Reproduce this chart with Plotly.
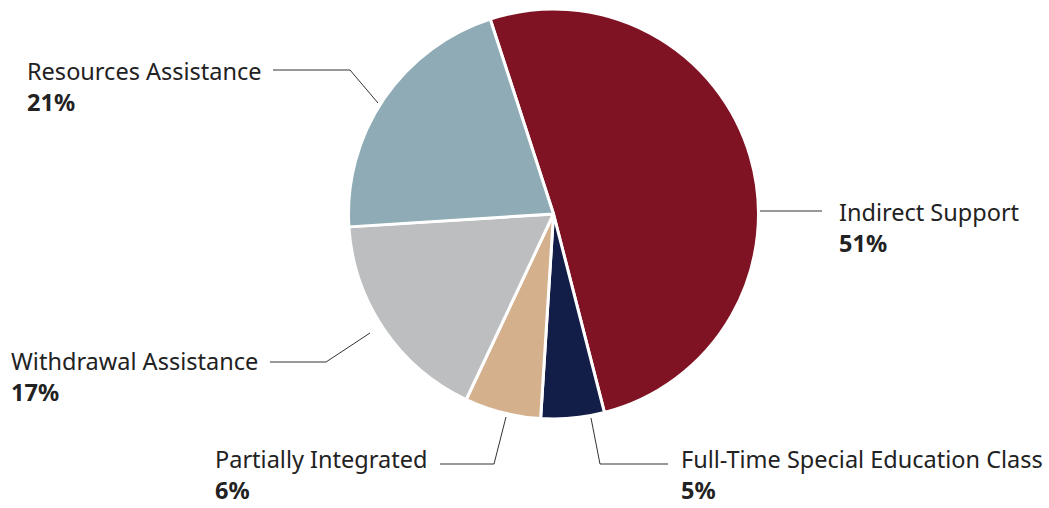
import plotly.graph_objects as go

# ---- data ----
categories = ["Indirect Support", "Full-Time Special Education Class",
              "Partially Integrated", "Withdrawal Assistance", "Resources Assistance"]
values = [51, 5, 6, 17, 21]
colors = ["#7F1324", "#131E48", "#D4B08C", "#BDBEC0", "#8FABB5"]

W, H = 1049, 508

def px(x):
    return x / W

def py(y):
    return 1 - y / H

fig = go.Figure()
fig.add_trace(go.Pie(
    labels=categories, values=values, sort=False, direction="clockwise",
    rotation=-18, marker=dict(colors=colors, line=dict(color="white", width=3)),
    textinfo="none", hoverinfo="label+percent", showlegend=False,
    domain=dict(x=[px(348.5), px(758.5)], y=[py(419), py(9)]),
))

# label layout (pixel positions): text-block left x, vertical center y, leader path
label_layout = {
    "Resources Assistance": dict(x=25, y=86, yanchor="middle",
                                 path=[(273, 70), (350, 70), (378, 103)]),
    "Indirect Support": dict(x=837, y=227, yanchor="middle",
                             path=[(760, 211), (822, 211)]),
    "Withdrawal Assistance": dict(x=9, y=376, yanchor="middle",
                                  path=[(270, 362), (326, 362), (370, 333)]),
    "Partially Integrated": dict(x=213, y=508, yanchor="bottom",
                                 path=[(440, 464), (494, 464), (506, 417)]),
    "Full-Time Special Education Class": dict(x=679, y=508, yanchor="bottom",
                                              path=[(668, 464), (600, 464), (591, 418)]),
}

total = sum(values)
annotations = []
shapes = []
FONT = "Noto Sans"
SIZE = 23.5
for cat, v in zip(categories, values):
    L = label_layout[cat]
    annotations.append(dict(
        x=px(L["x"]), y=py(L["y"]), xref="paper", yref="paper",
        xanchor="left", yanchor=L["yanchor"], align="left", showarrow=False,
        text=f"{cat}<br><b>{round(v / total * 100)}%</b>",
        font=dict(family=FONT, size=SIZE, color="#222222")))
    p = L["path"]
    d = "M " + " L ".join(f"{px(a)},{py(b)}" for a, b in p)
    shapes.append(dict(type="path", xref="paper", yref="paper", path=d,
                       line=dict(color="#333333", width=1)))

fig.update_layout(
    width=W, height=H, margin=dict(l=0, r=0, t=0, b=0),
    paper_bgcolor="white", plot_bgcolor="white",
    annotations=annotations, shapes=shapes,
)

fig.write_html("out.html")
